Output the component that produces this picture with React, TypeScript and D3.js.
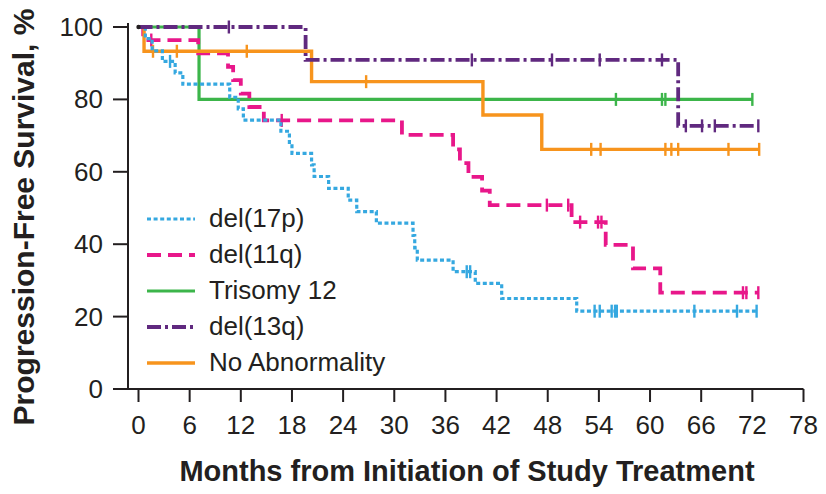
import React from "react";
import * as d3 from "d3";

// Axis ticks
const monthTicks = [0, 6, 12, 18, 24, 30, 36, 42, 48, 54, 60, 66, 72, 78];
const survivalTicks = [0, 20, 40, 60, 80, 100];

// Kaplan-Meier steps: [month, survival %] at each event
const del17pSteps: [number, number][] = [
  [0, 100], [0.8, 96.8], [1.6, 93.4], [2.8, 90.5], [4.3, 87.3], [5.2, 84.2],
  [10.7, 80.6], [11.7, 77.4], [12.3, 74.3], [16.7, 71.2], [17.7, 68.1], [18.0, 65.1],
  [20.3, 61.9], [20.6, 58.7], [22.3, 55.4], [24.6, 52.2], [25.6, 49.0], [27.9, 45.8],
  [32.2, 42.4], [32.4, 39.0], [32.7, 35.6], [36.9, 32.4], [39.5, 29.2], [42.6, 25.0],
  [51.4, 21.5],
];
const del17pCensored = [3.7, 38.5, 38.9, 53.5, 54.1, 55.5, 55.9, 56.1, 65.2, 70.2, 72.5];

const del11qSteps: [number, number][] = [
  [0, 100], [0.55, 96.4], [7.0, 92.7], [10.5, 89.0], [11.1, 85.3], [12.0, 81.6],
  [13.0, 77.9], [14.7, 74.2], [30.9, 70.2], [36.9, 66.2], [37.7, 62.4], [38.7, 58.6],
  [40.3, 54.8], [41.2, 50.8], [50.8, 46.1], [54.8, 39.8], [58.0, 33.3], [61.2, 26.6],
];
const del11qCensored = [1.5, 16.8, 47.9, 50.4, 51.8, 53.9, 54.3, 70.9, 71.3, 72.7];

const trisomy12Steps: [number, number][] = [[0, 100], [7.1, 80]];
const trisomy12Censored = [56.0, 61.4, 61.8, 72.0];

const del13qSteps: [number, number][] = [[0, 100], [19.6, 90.9], [63.3, 72.7]];
const del13qCensored = [10.6, 39.1, 48.5, 54.1, 61.4, 64.2, 66.1, 67.6, 72.7];

const noAbnSteps: [number, number][] = [
  [0, 100], [0.65, 93.3], [20.3, 84.9], [40.4, 75.7], [47.3, 66.2],
];
const noAbnCensored = [1.7, 4.5, 12.7, 26.7, 53.1, 54.2, 61.8, 62.5, 63.3, 69.2, 72.8];

type Series = {
  name: string;
  steps: [number, number][];
  censored: number[];
  color: string;
  width: number;
  dash: string | undefined;
};

const series: Series[] = [
  { name: "del(17p)", steps: del17pSteps, censored: del17pCensored, color: "#35A8E0", width: 3.2, dash: "4 2.6" },
  { name: "del(11q)", steps: del11qSteps, censored: del11qCensored, color: "#E8178A", width: 3.8, dash: "14 7" },
  { name: "Trisomy 12", steps: trisomy12Steps, censored: trisomy12Censored, color: "#3CB54A", width: 3.2, dash: undefined },
  { name: "del(13q)", steps: del13qSteps, censored: del13qCensored, color: "#60297F", width: 3.8, dash: "14 4 3 4" },
  { name: "No Abnormality", steps: noAbnSteps, censored: noAbnCensored, color: "#F7941D", width: 3.4, dash: undefined },
];

// draw order (last on top)
const drawOrder = ["Trisomy 12", "del(11q)", "No Abnormality", "del(17p)", "del(13q)"];

const W = 826;
const H = 494;
const FONT = "'Liberation Sans', Arial, Helvetica, sans-serif";

const x = d3.scaleLinear().domain([0, 78]).range([138.5, 803.5]);
const y = d3.scaleLinear().domain([0, 100]).range([389, 27]);

function valueAt(steps: [number, number][], t: number) {
  let v = steps[0][1];
  for (const [m, s] of steps) if (m <= t) v = s;
  return v;
}

const stepLine = d3
  .line<[number, number]>()
  .x((d) => x(d[0]))
  .y((d) => y(d[1]))
  .curve(d3.curveStepAfter);

export default function App() {
  const axisLeft = 128;
  const legendRows = series.map((s, i) => ({ s, cy: 219 + i * 36 }));

  return (
    <svg
      width={W}
      height={H}
      viewBox={`0 0 ${W} ${H}`}
      style={{ position: "absolute", left: 0, top: 0, display: "block", background: "#fff" }}
    >
      {/* curves */}
      {drawOrder.map((nm) => {
        const s = series.find((q) => q.name === nm)!;
        const end = Math.max(...s.censored, s.steps[s.steps.length - 1][0]);
        const pts: [number, number][] = [...s.steps, [end, s.steps[s.steps.length - 1][1]]];
        return (
          <g key={nm}>
            <path
              d={stepLine(pts) ?? ""}
              fill="none"
              stroke={s.color}
              strokeWidth={s.width}
              strokeDasharray={s.dash}
              strokeLinejoin="miter"
            />
            {s.censored.map((c, i) => {
              const cy = y(valueAt(s.steps, c));
              return (
                <line
                  key={i}
                  x1={x(c)}
                  x2={x(c)}
                  y1={cy - 6.5}
                  y2={cy + 6.5}
                  stroke={s.color}
                  strokeWidth={2.4}
                />
              );
            })}
          </g>
        );
      })}
      <circle cx={x(0)} cy={y(100)} r={2.2} fill="#231F20" />

      {/* y axis */}
      <line x1={axisLeft} x2={axisLeft} y1={y(100) - 4} y2={y(0)} stroke="#231F20" strokeWidth={2} />
      {survivalTicks.map((t) => (
        <g key={t}>
          <line x1={axisLeft - 15} x2={axisLeft} y1={y(t)} y2={y(t)} stroke="#231F20" strokeWidth={2} />
          <text
            x={103}
            y={y(t) + 9}
            textAnchor="end"
            fontFamily={FONT}
            fontSize={26}
            fill="#231F20"
          >
            {t}
          </text>
        </g>
      ))}

      {/* x axis */}
      <line x1={axisLeft} x2={x(78)} y1={y(0)} y2={y(0)} stroke="#231F20" strokeWidth={2} />
      {monthTicks.map((t) => (
        <g key={t}>
          <line x1={x(t)} x2={x(t)} y1={y(0)} y2={y(0) + 13} stroke="#231F20" strokeWidth={2} />
          <text
            x={x(t)}
            y={434}
            textAnchor="middle"
            fontFamily={FONT}
            fontSize={26}
            fill="#231F20"
          >
            {t}
          </text>
        </g>
      ))}

      {/* axis titles */}
      <text
        x={467}
        y={481}
        textAnchor="middle"
        fontFamily={FONT}
        fontWeight="bold"
        fontSize={29}
        fill="#231F20"
      >
        Months from Initiation of Study Treatment
      </text>
      <text
        transform="translate(34,217) rotate(-90)"
        textAnchor="middle"
        fontFamily={FONT}
        fontWeight="bold"
        fontSize={30}
        fill="#231F20"
      >
        Progression-Free Survival, %
      </text>

      {/* legend */}
      {legendRows.map(({ s, cy }) => (
        <g key={s.name}>
          <line
            x1={147}
            x2={195}
            y1={cy}
            y2={cy}
            stroke={s.color}
            strokeWidth={s.width}
            strokeDasharray={s.dash}
          />
          <text x={209} y={cy + 8} fontFamily={FONT} fontSize={26} fill="#231F20">
            {s.name}
          </text>
        </g>
      ))}
    </svg>
  );
}
